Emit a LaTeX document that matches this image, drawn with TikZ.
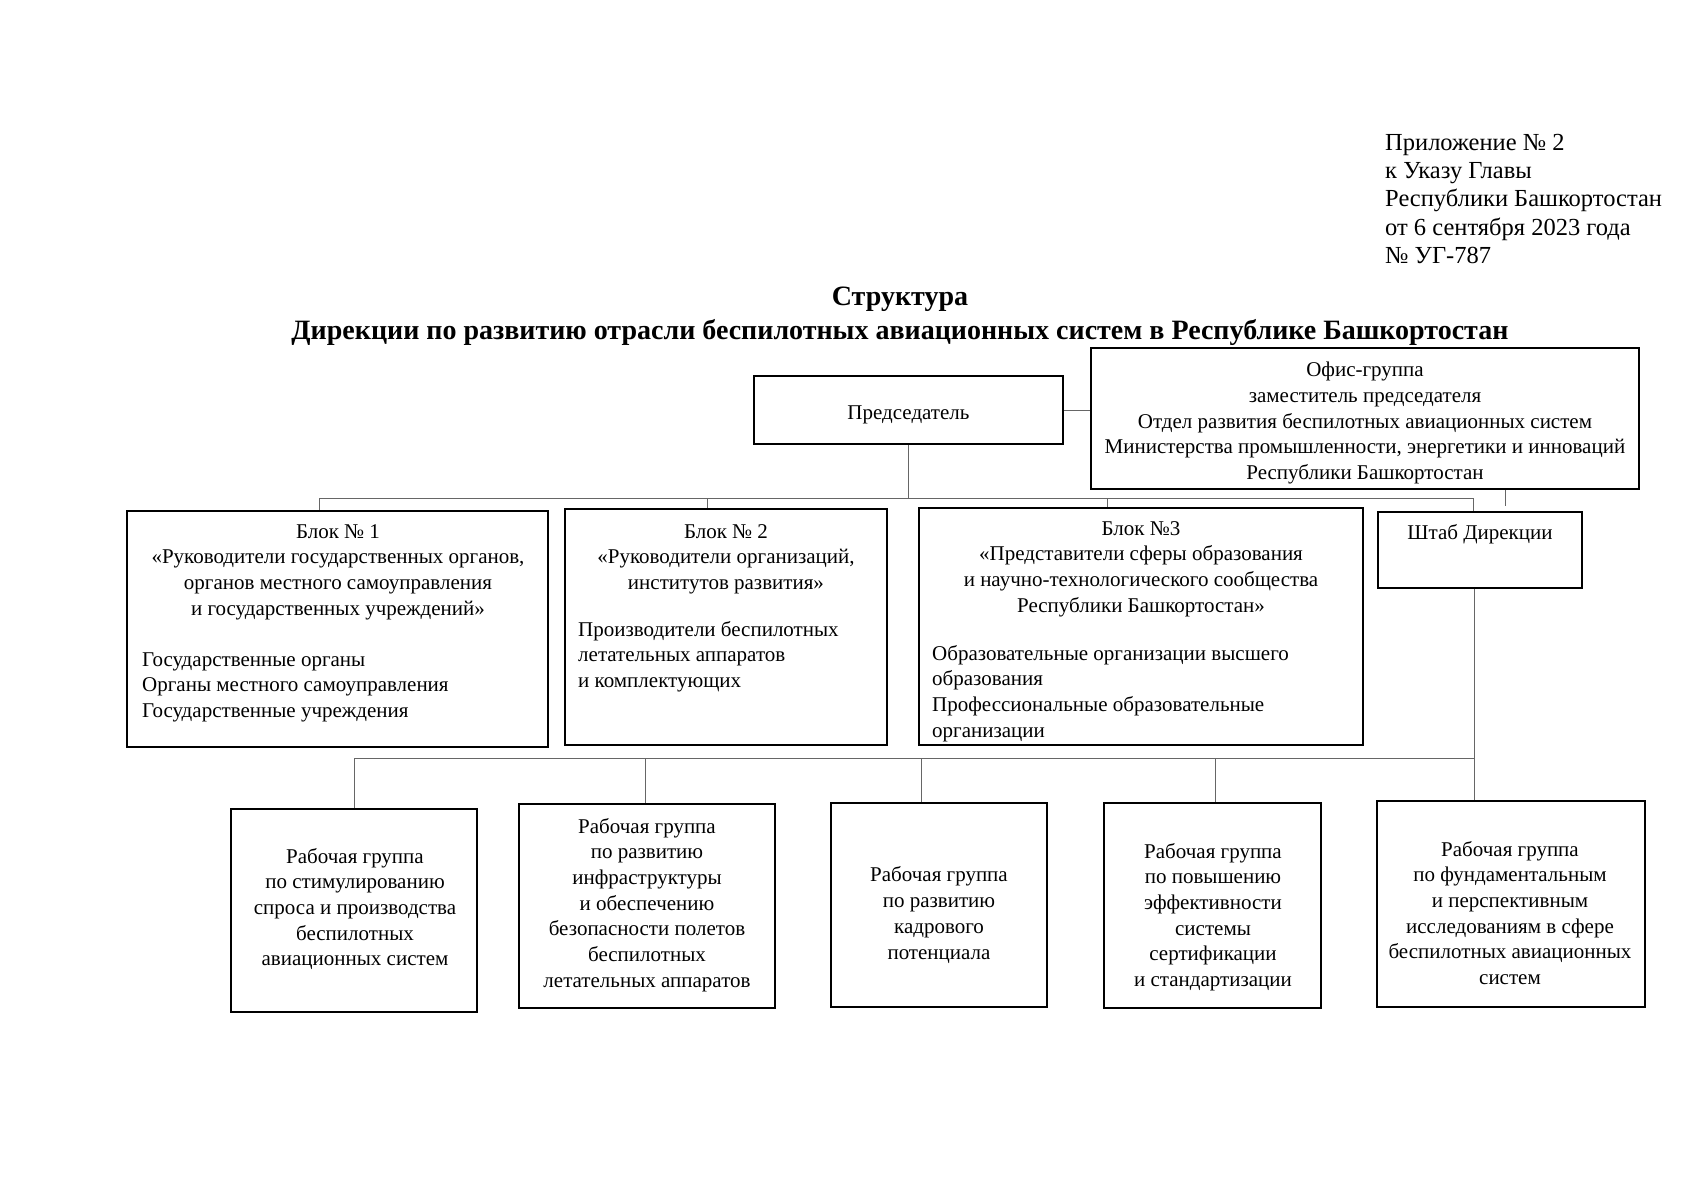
\documentclass[tikz,border=0pt]{standalone}
\usepackage{fontspec}
\setmainfont{Liberation Serif}
\newcommand\bsz{\fontsize{21}{25.7}\selectfont}
\newcommand\hsz{\fontsize{24.5}{28.4}\selectfont}
\newcommand\tsz{\fontsize{28}{33.5}\selectfont}
\begin{document}
\begin{tikzpicture}[x=1pt,y=-1pt,
  box/.style={draw=black, line width=2.1pt, inner sep=0pt, font=\bsz, align=center},
  txt/.style={inner sep=0pt, font=\bsz},
  conn/.style={draw=black!60, line width=0.9pt}]
\useasboundingbox[fill=white] (0,0) rectangle (1697,1200);

% header (anchor base = baseline of the last line)
\node[txt, font=\hsz, anchor=base west, align=left] (hdr) at (1385,263.6)
  {Приложение № 2\\к Указу Главы\\Республики Башкортостан\\от 6 сентября 2023 года\\№ УГ-787};
\node[txt, font=\tsz\bfseries, anchor=base, align=center] (title) at (900,339)
  {Структура\\Дирекции по развитию отрасли беспилотных авиационных систем в Республике Башкортостан};

% top level
\node[box, minimum width=309pt, minimum height=68pt] (pred) at (908.5,410) {};
\node[txt] (predt) at (908.5,414.5) {Председатель};
\node[box, minimum width=548pt, minimum height=141pt] (ofis) at (1365,418.5) {};
\node[txt, align=center] (ofist) at (1365,423)
  {Офис-группа\\заместитель председателя\\Отдел развития беспилотных авиационных систем\\Министерства промышленности, энергетики и инноваций\\Республики Башкортостан};

% blocks
\node[box, minimum width=421pt, minimum height=236pt] (blk1) at (337.5,629) {};
\node[box, minimum width=322pt, minimum height=236pt] (blk2) at (726,627) {};
\node[box, minimum width=444pt, minimum height=237pt] (blk3) at (1141,626.5) {};
\node[box, minimum width=204pt, minimum height=76pt] (shtab) at (1480,550) {};

\node[txt, anchor=base, align=center] (blk1t) at (338,615.1)
  {Блок № 1\\«Руководители государственных органов,\\органов местного самоуправления\\и государственных учреждений»};
\node[txt, anchor=base west, align=left] (blk1l) at (142,717.4)
  {Государственные органы\\Органы местного самоуправления\\Государственные учреждения};
\node[txt, anchor=base, align=center] (blk2t) at (726,589.4)
  {Блок № 2\\«Руководители организаций,\\институтов развития»};
\node[txt, anchor=base west, align=left] (blk2l) at (578,687.4)
  {Производители беспилотных\\летательных аппаратов\\и комплектующих};
\node[txt, anchor=base, align=center] (blk3t) at (1141,612.1)
  {Блок №3\\«Представители сферы образования\\и научно-технологического сообщества\\Республики Башкортостан»};
\node[txt, anchor=base west, align=left] (blk3l) at (932,737.1)
  {Образовательные организации высшего\\образования\\Профессиональные образовательные\\организации};
\node[txt, anchor=base] (shtabt) at (1480,539) {Штаб Дирекции};

% working groups
\node[box, minimum width=246pt, minimum height=203pt] (wg1) at (354,910.5) {};
\node[box, minimum width=256pt, minimum height=204pt] (wg2) at (647,906) {};
\node[box, minimum width=216pt, minimum height=204pt] (wg3) at (939,905) {};
\node[box, minimum width=217pt, minimum height=205pt] (wg4) at (1212.5,905.5) {};
\node[box, minimum width=268pt, minimum height=206pt] (wg5) at (1511,904) {};

\node[txt, align=center] (wg1t) at (355,909)
  {Рабочая группа\\по стимулированию\\спроса и производства\\беспилотных\\авиационных систем};
\node[txt, align=center] (wg2t) at (647,905)
  {Рабочая группа\\по развитию\\инфраструктуры\\и обеспечению\\безопасности полетов\\беспилотных\\летательных аппаратов};
\node[txt, align=center] (wg3t) at (939,915)
  {Рабочая группа\\по развитию\\кадрового\\потенциала};
\node[txt, align=center] (wg4t) at (1213,917)
  {Рабочая группа\\по повышению\\эффективности\\системы\\сертификации\\и стандартизации};
\node[txt, align=center] (wg5t) at (1510,913)
  {Рабочая группа\\по фундаментальным\\и перспективным\\исследованиям в сфере\\беспилотных авиационных\\систем};

% connectors
\draw[conn] (pred.east) -- (pred.east -| ofis.west);
\coordinate (b1L) at (319,498);
\coordinate (b1R) at (1473,498);
\coordinate (t2) at (707,498);
\coordinate (t3) at (1107,498);
\coordinate (od) at (1505,506);
\draw[conn] (pred.south) -- (pred.south |- b1L);
\draw[conn] (b1L) -- (b1R);
\draw[conn] (b1L) -- (b1L |- blk1.north);
\draw[conn] (t2) -- (t2 |- blk2.north);
\draw[conn] (t3) -- (t3 |- blk3.north);
\draw[conn] (b1R) -- (b1R |- shtab.north);
\draw[conn] (od |- ofis.south) -- (od);

\coordinate (s5) at (1474,758);
\coordinate (b2L) at (354,758);
\coordinate (u2) at (645,758);
\coordinate (u3) at (921,758);
\coordinate (u4) at (1215,758);
\draw[conn] (s5 |- shtab.south) -- (s5 |- wg5.north);
\draw[conn] (b2L) -- (s5);
\draw[conn] (b2L) -- (b2L |- wg1.north);
\draw[conn] (u2) -- (u2 |- wg2.north);
\draw[conn] (u3) -- (u3 |- wg3.north);
\draw[conn] (u4) -- (u4 |- wg4.north);
\end{tikzpicture}
\end{document}
